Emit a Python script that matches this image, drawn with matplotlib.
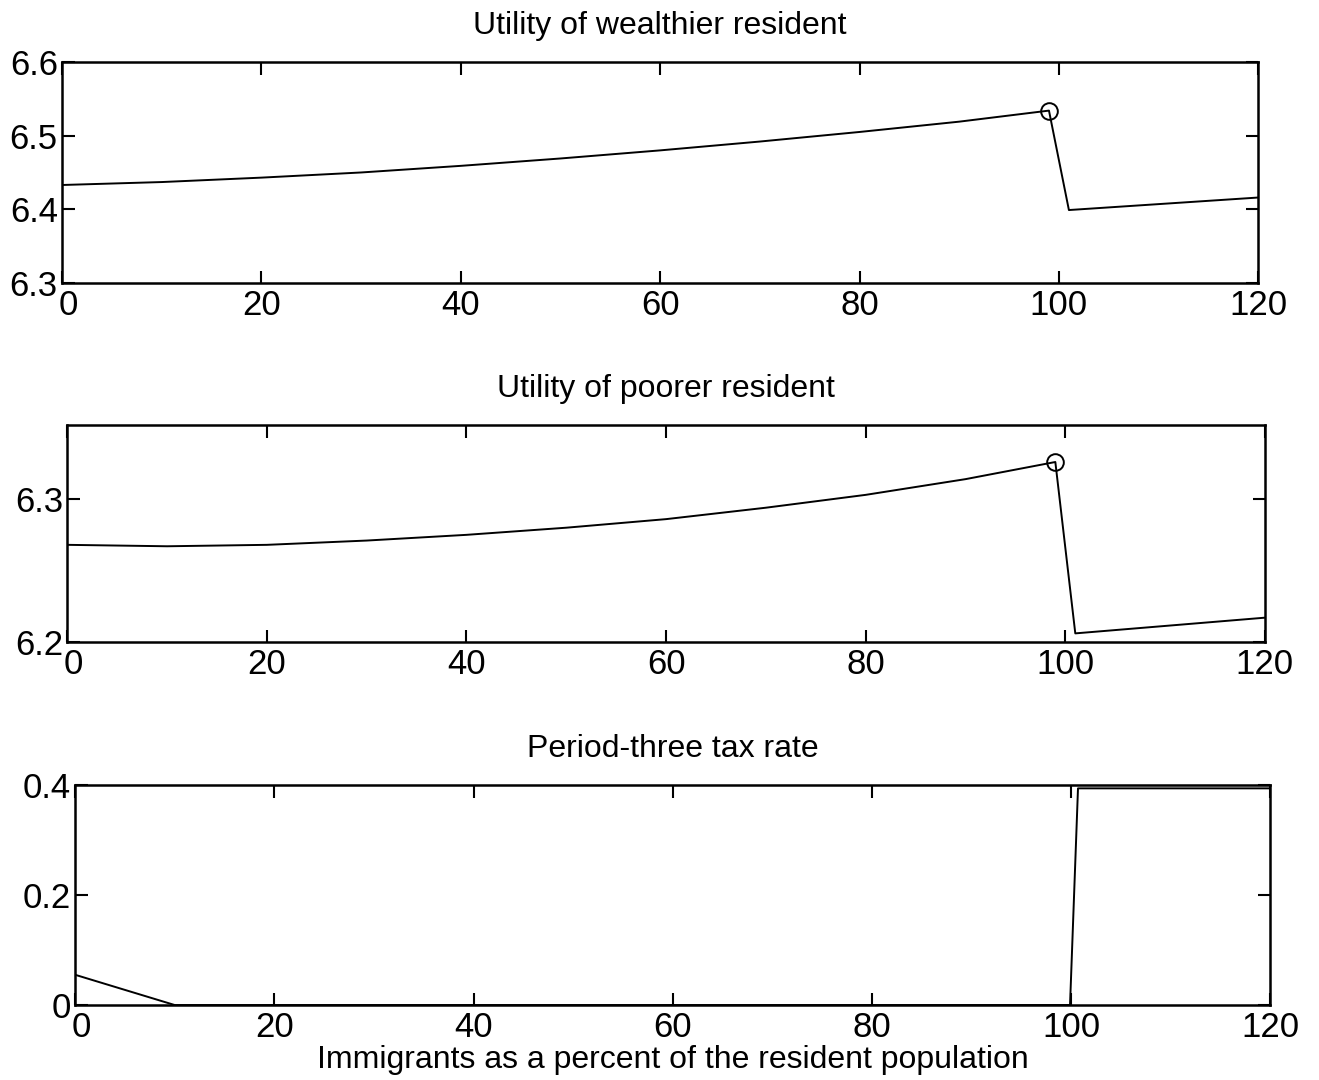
"""
Three stacked panels: utilities of the two residents and the period-three
tax rate against immigration (percent of resident population).
"""
import matplotlib
matplotlib.use('Agg')
import matplotlib.pyplot as plt
import matplotlib.transforms as mtransforms

plt.rcParams['font.family'] = ['Liberation Sans', 'DejaVu Sans']

# Utility of wealthier resident
rich_x = [0, 10, 20, 30, 40, 50, 60, 70, 80, 90, 99, 101, 120]
rich_u = [6.433, 6.437, 6.443, 6.450, 6.459, 6.469, 6.480, 6.492, 6.505, 6.519, 6.534, 6.399, 6.416]
rich_peak = (99, 6.534)

# Utility of poorer resident
poor_x = [0, 10, 20, 30, 40, 50, 60, 70, 80, 90, 99, 101, 120]
poor_u = [6.268, 6.267, 6.268, 6.271, 6.275, 6.280, 6.286, 6.294, 6.303, 6.314, 6.326, 6.206, 6.217]
poor_peak = (99, 6.326)

# Period-three tax rate
tax_x = [0, 10, 99.9, 100.7, 120]
tax_rate = [0.055, 0.0, 0.0, 0.394, 0.394]

xticks = [0, 20, 40, 60, 80, 100, 120]

fig = plt.figure(figsize=(13.19, 10.8), dpi=100)
ax1 = fig.add_axes([0.047, 0.738, 0.907, 0.2046])
ax2 = fig.add_axes([0.051, 0.4056, 0.908, 0.201])
ax3 = fig.add_axes([0.057, 0.0694, 0.906, 0.2037])

ax1.plot(rich_x, rich_u, color='black', lw=1.4)
ax1.plot(*rich_peak, 'o', mfc='none', mec='black', ms=12, mew=1.4)
ax1.set_ylim(6.3, 6.6)
ax1.set_yticks([6.3, 6.4, 6.5, 6.6])
ax1.set_title('Utility of wealthier resident', fontsize=23, pad=20)

ax2.plot(poor_x, poor_u, color='black', lw=1.4)
ax2.plot(*poor_peak, 'o', mfc='none', mec='black', ms=12, mew=1.4)
ax2.set_ylim(6.2, 6.352)
ax2.set_yticks([6.2, 6.3])
ax2.set_title('Utility of poorer resident', fontsize=23, pad=20)

ax3.plot(tax_x, tax_rate, color='black', lw=1.4)
ax3.set_ylim(0, 0.4)
ax3.set_yticks([0, 0.2, 0.4])
ax3.set_yticklabels(['0', '0.2', '0.4'])
ax3.set_title('Period-three tax rate', fontsize=23, pad=20)
ax3.set_xlabel('Immigrants as a percent of the resident population', fontsize=23, labelpad=1)

for ax in (ax1, ax2, ax3):
    ax.set_xlim(0, 120)
    ax.set_xticks(xticks)
    ax.tick_params(direction='in', top=True, right=True, length=9, width=1.5,
                   labelsize=25)
    ax.tick_params(axis='y', pad=3)
    ax.tick_params(axis='x', pad=4)
    for s in ax.spines.values():
        s.set_linewidth(1.8)
    # nudge the "0" x label right, away from the lowest y label
    first = ax.get_xticklabels()[0]
    first.set_transform(first.get_transform() +
                        mtransforms.ScaledTranslation(6 / 100, 0, fig.dpi_scale_trans))

plt.savefig('out.png', dpi=100)
plt.close()
